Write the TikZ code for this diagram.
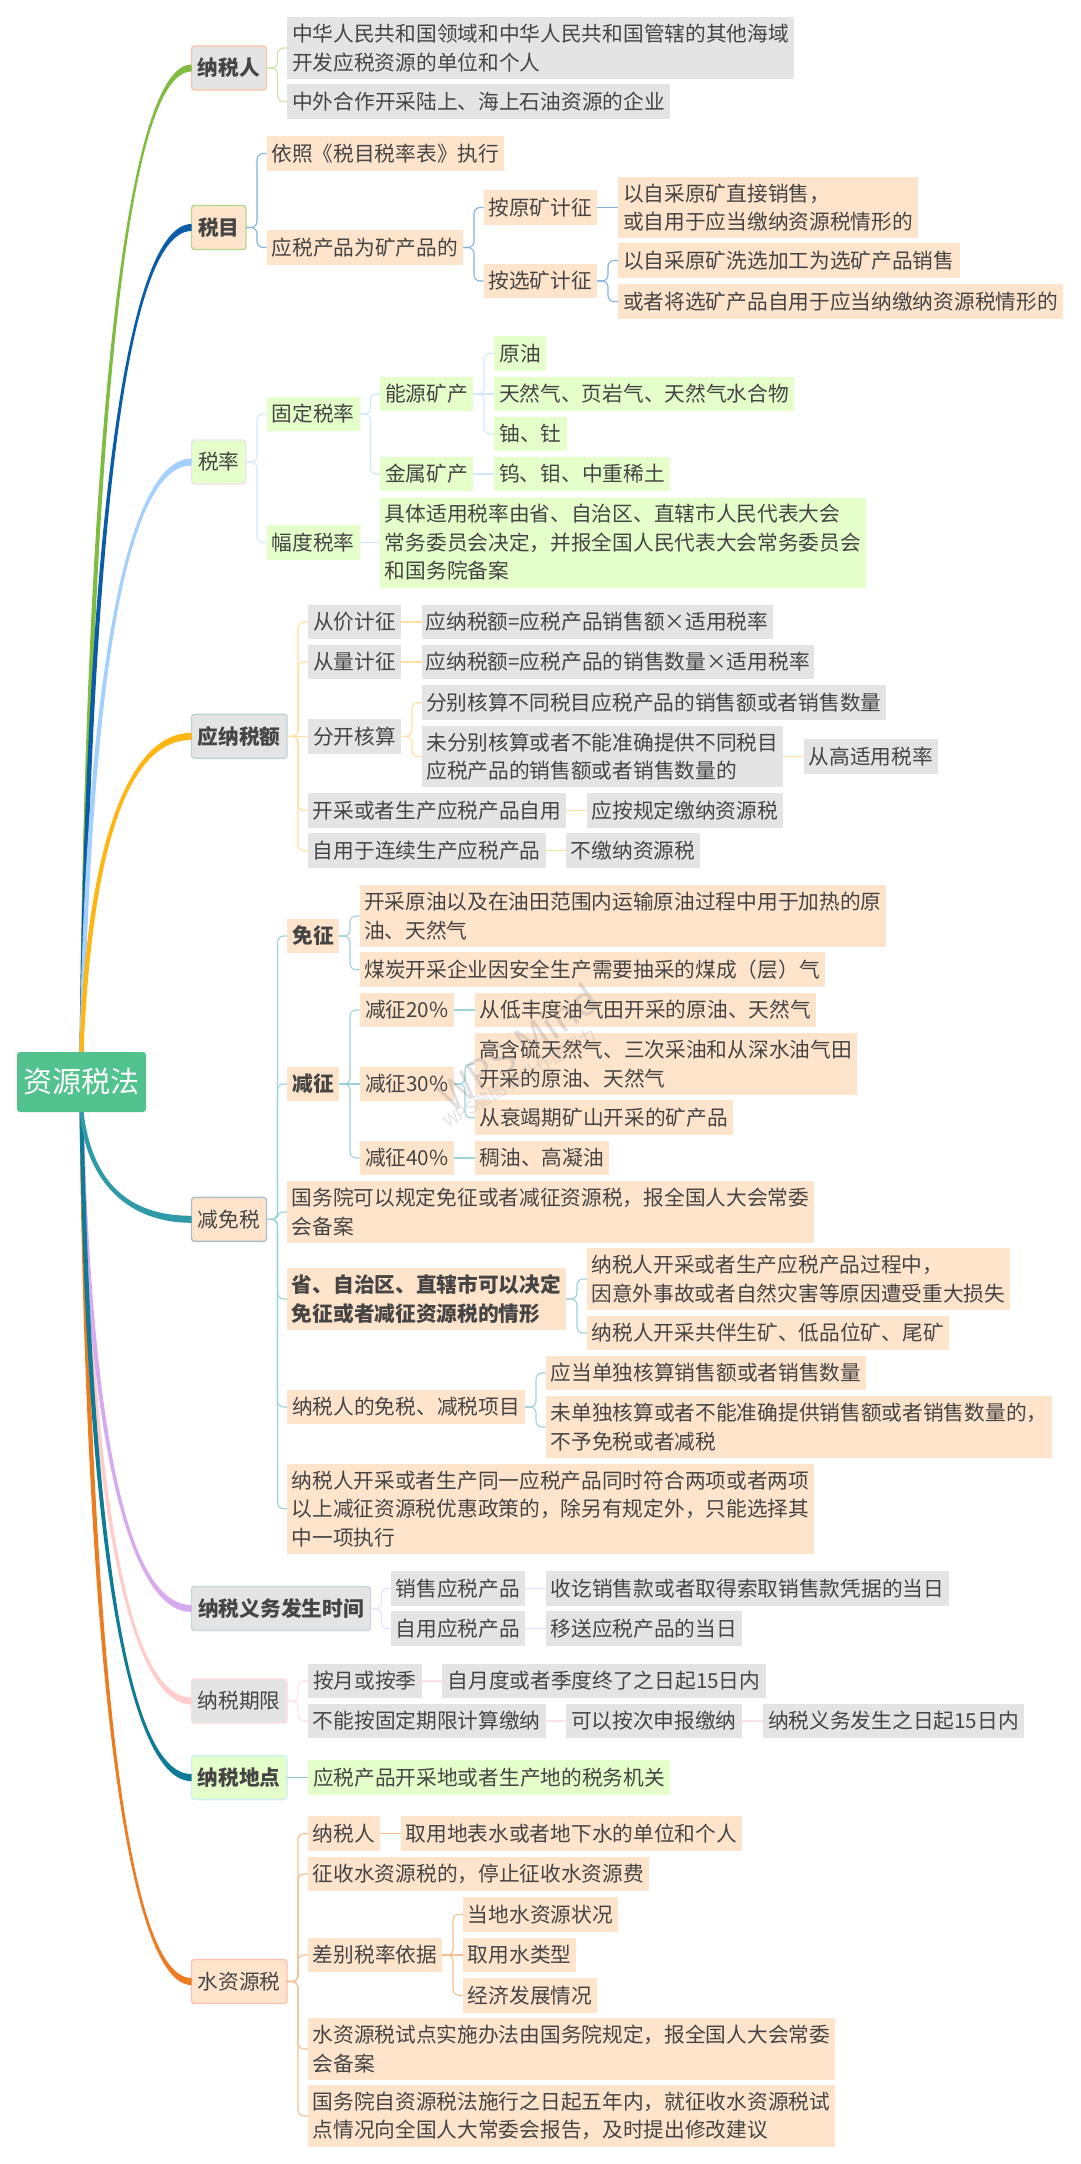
\documentclass[tikz,border=0pt]{standalone}
\usepackage{fontspec}
\usetikzlibrary{calc}
\setmainfont{Noto Sans CJK SC}

\definecolor{textgray}{HTML}{454545}
\definecolor{boxgray}{HTML}{E4E4E4}
\definecolor{boxpeach}{HTML}{FFE4CC}
\definecolor{boxgreen}{HTML}{E4FFC9}
\definecolor{rootgreen}{HTML}{52C28E}
\definecolor{trunkgreen}{HTML}{7FBC41}
\definecolor{trunkblue}{HTML}{0B5CA8}
\definecolor{trunksky}{HTML}{A3D0FF}
\definecolor{trunkyellow}{HTML}{FFB612}
\definecolor{trunkteal}{HTML}{2F9AA8}
\definecolor{trunklilac}{HTML}{D7A9EE}
\definecolor{trunkpink}{HTML}{FFCCCC}
\definecolor{trunksteel}{HTML}{0E7C96}
\definecolor{trunkorange}{HTML}{EC7C22}
\definecolor{linegreen}{HTML}{C9E5A8}
\definecolor{lineblue}{HTML}{7FB2DC}
\definecolor{linesky}{HTML}{D0E8FF}
\definecolor{lineyellow}{HTML}{FFE0A0}
\definecolor{lineteal}{HTML}{9BD3D8}
\definecolor{linelilac}{HTML}{EEDCF8}
\definecolor{linepink}{HTML}{FFE3E3}
\definecolor{linesteel}{HTML}{8FC2D0}
\definecolor{lineorange}{HTML}{F5BE90}

\tikzset{
  leafbox/.style={anchor=west,inner sep=0,outer sep=0,minimum height=34.5,align=left,text=textgray,
    font=\fontsize{20.7}{28.5}\selectfont},
  graybox/.style={leafbox,fill=boxgray},
  peachbox/.style={leafbox,fill=boxpeach},
  greenbox/.style={leafbox,fill=boxgreen},
  twolines/.style={minimum height=61.7},
  threelines/.style={minimum height=90},
  strong/.style={font=\fontsize{20.7}{28.5}\selectfont\bfseries},
  topicbox/.style={minimum height=44,rounded corners=3,draw=#1,line width=1.4},
  branch/.style={rounded corners=6,line width=1.1}
}

\begin{document}
\begin{tikzpicture}[x=1pt,y=-1pt]
\useasboundingbox (0,0) rectangle (1080,2164);

\node[anchor=west,inner sep=0,outer sep=0,minimum width=129,minimum height=60,rounded corners=3,fill=rootgreen,text=white,
  font=\fontsize{29}{32}\selectfont] (root) at (17,1082) {资源税法};

% nashuiren
\node[graybox,strong,topicbox=red!35!orange!35,minimum width=75] (nsr) at (191.5,68) {纳税人};
\node[graybox,twolines,minimum width=507] (nsr1) at (287,48) {中华人民共和国领域和中华人民共和国管辖的其他海域\\开发应税资源的单位和个人};
\node[graybox,minimum width=383] (nsr2) at (287,101.5) {中外合作开采陆上、海上石油资源的企业};

% shuimu
\node[peachbox,strong,topicbox={green!50!yellow!50!gray!60},minimum width=54.5] (sm) at (191.5,227.5) {税目};
\node[peachbox,minimum width=237.5] (sm1) at (266.5,153.5) {依照《税目税率表》执行};
\node[peachbox,minimum width=196.5] (sm2) at (266.5,247.5) {应税产品为矿产品的};
\node[peachbox,minimum width=113.5] (sm21) at (483.5,207.5) {按原矿计征};
\node[peachbox,minimum width=113.5] (sm22) at (483.5,281) {按选矿计征};
\node[peachbox,twolines,minimum width=300] (sm211) at (618,207.5) {以自采原矿直接销售，\\或自用于应当缴纳资源税情形的};
\node[peachbox,minimum width=341.5] (sm221) at (618,260.5) {以自采原矿洗选加工为选矿产品销售};
\node[peachbox,minimum width=445] (sm222) at (618,301.5) {或者将选矿产品自用于应当纳缴纳资源税情形的};

% shuilv
\node[greenbox,topicbox=violet!12,minimum width=54.5] (sl) at (191.5,462) {税率};
\node[greenbox,minimum width=93] (sl1) at (266.5,414) {固定税率};
\node[greenbox,minimum width=93] (sl2) at (266.5,542.5) {幅度税率};
\node[greenbox,minimum width=93] (sl11) at (380,394) {能源矿产};
\node[greenbox,minimum width=93] (sl12) at (380,474) {金属矿产};
\node[greenbox,minimum width=52] (sl111) at (494,353.3) {原油};
\node[greenbox,minimum width=300] (sl112) at (494,394) {天然气、页岩气、天然气水合物};
\node[greenbox,minimum width=73] (sl113) at (494,434) {铀、钍};
\node[greenbox,minimum width=176] (sl121) at (494,474) {钨、钼、中重稀土};
\node[greenbox,threelines,minimum width=486] (sl21) at (380,542.5) {具体适用税率由省、自治区、直辖市人民代表大会\\常务委员会决定，并报全国人民代表大会常务委员会\\和国务院备案};

% yingnashuie
\node[graybox,strong,topicbox=cyan!30!gray!45,minimum width=95.5] (ynse) at (191.5,736.3) {应纳税额};
\node[graybox,minimum width=93] (ynse1) at (308,622) {从价计征};
\node[graybox,minimum width=93] (ynse2) at (308,662) {从量计征};
\node[graybox,minimum width=93] (ynse3) at (308,736.3) {分开核算};
\node[graybox,minimum width=258] (ynse4) at (308,810.3) {开采或者生产应税产品自用};
\node[graybox,minimum width=237.5] (ynse5) at (308,850.7) {自用于连续生产应税产品};
\node[graybox,minimum width=351] (ynse11) at (421.5,622) {应纳税额=应税产品销售额×适用税率};
\node[graybox,minimum width=392.5] (ynse21) at (421.5,662) {应纳税额=应税产品的销售数量×适用税率};
\node[graybox,minimum width=464.5] (ynse31) at (421.5,702.7) {分别核算不同税目应税产品的销售额或者销售数量};
\node[graybox,twolines,minimum width=361.5] (ynse32) at (421.5,756.6) {未分别核算或者不能准确提供不同税目\\应税产品的销售额或者销售数量的};
\node[graybox,minimum width=134.3] (ynse321) at (803.7,756.6) {从高适用税率};
\node[graybox,minimum width=196] (ynse41) at (586.8,810.3) {应按规定缴纳资源税};
\node[graybox,minimum width=134] (ynse51) at (566,850.7) {不缴纳资源税};

% jianmianshui
\node[peachbox,topicbox={blue!30!cyan!25!gray!55},minimum width=75] (jms) at (191.5,1219.3) {减免税};
\node[peachbox,strong,minimum width=52] (jms1) at (287,936) {免征};
\node[peachbox,strong,minimum width=52] (jms2) at (287,1084) {减征};
\node[peachbox,twolines,minimum width=527] (jms3) at (287,1212) {国务院可以规定免征或者减征资源税，报全国人大会常委\\会备案};
\node[peachbox,strong,twolines,minimum width=279] (jms4) at (287,1299) {省、自治区、直辖市可以决定\\免征或者减征资源税的情形};
\node[peachbox,minimum width=238] (jms5) at (287,1407) {纳税人的免税、减税项目};
\node[peachbox,threelines,minimum width=527] (jms6) at (287,1508.7) {纳税人开采或者生产同一应税产品同时符合两项或者两项\\以上减征资源税优惠政策的，除另有规定外，只能选择其\\中一项执行};
\node[peachbox,twolines,minimum width=526.5] (jms11) at (359.5,916) {开采原油以及在油田范围内运输原油过程中用于加热的原\\油、天然气};
\node[peachbox,minimum width=465] (jms12) at (359.5,969.7) {煤炭开采企业因安全生产需要抽采的煤成（层）气};
\node[peachbox,minimum width=94.5] (jms21) at (359.5,1010) {减征20\%};
\node[peachbox,minimum width=94.5] (jms22) at (359.5,1084) {减征30\%};
\node[peachbox,minimum width=94.5] (jms23) at (359.5,1158) {减征40\%};
\node[peachbox,minimum width=341.5] (jms211) at (474.5,1010) {从低丰度油气田开采的原油、天然气};
\node[peachbox,twolines,minimum width=382] (jms221) at (474.5,1064) {高含硫天然气、三次采油和从深水油气田\\开采的原油、天然气};
\node[peachbox,minimum width=258.5] (jms222) at (474.5,1117.7) {从衰竭期矿山开采的矿产品};
\node[peachbox,minimum width=134.5] (jms231) at (474.5,1158) {稠油、高凝油};
\node[peachbox,twolines,minimum width=423] (jms41) at (586.8,1279) {纳税人开采或者生产应税产品过程中，\\因意外事故或者自然灾害等原因遭受重大损失};
\node[peachbox,minimum width=362] (jms42) at (586.8,1333) {纳税人开采共伴生矿、低品位矿、尾矿};
\node[peachbox,minimum width=320] (jms51) at (546,1373) {应当单独核算销售额或者销售数量};
\node[peachbox,twolines,minimum width=506] (jms52) at (546,1427) {未单独核算或者不能准确提供销售额或者销售数量的，\\不予免税或者减税};

% shijian
\node[graybox,strong,topicbox=cyan!30!gray!40,minimum width=179] (sj) at (191.5,1608.5) {纳税义务发生时间};
\node[graybox,minimum width=134.5] (sj1) at (390.5,1588.3) {销售应税产品};
\node[graybox,minimum width=134.5] (sj2) at (390.5,1628.7) {自用应税产品};
\node[graybox,minimum width=403] (sj11) at (546,1588.3) {收讫销售款或者取得索取销售款凭据的当日};
\node[graybox,minimum width=195.7] (sj21) at (546,1628.7) {移送应税产品的当日};

% qixian
\node[graybox,topicbox=red!14,minimum width=95.5] (qx) at (191.5,1701) {纳税期限};
\node[graybox,minimum width=113.5] (qx1) at (308,1681) {按月或按季};
\node[graybox,minimum width=237.5] (qx2) at (308,1721) {不能按固定期限计算缴纳};
\node[graybox,minimum width=324] (qx11) at (442,1681) {自月度或者季度终了之日起15日内};
\node[graybox,minimum width=175.7] (qx21) at (566,1721) {可以按次申报缴纳};
\node[graybox,minimum width=261] (qx22) at (763,1721) {纳税义务发生之日起15日内};

% didian
\node[greenbox,strong,topicbox=cyan!20,minimum width=95.5] (dd) at (191.5,1777.6) {纳税地点};
\node[greenbox,minimum width=362] (dd1) at (308,1777.6) {应税产品开采地或者生产地的税务机关};

% shuiziyuan
\node[peachbox,topicbox=orange!30!red!30,minimum width=95.5] (sz) at (191.5,1981.5) {水资源税};
\node[peachbox,minimum width=72] (sz1) at (308,1833.7) {纳税人};
\node[peachbox,minimum width=340.7] (sz11) at (401,1833.7) {取用地表水或者地下水的单位和个人};
\node[peachbox,minimum width=340.8] (sz2) at (308,1874) {征收水资源税的，停止征收水资源费};
\node[peachbox,minimum width=134] (sz3) at (308,1955) {差别税率依据};
\node[peachbox,minimum width=154.8] (sz31) at (463,1914.3) {当地水资源状况};
\node[peachbox,minimum width=113.4] (sz32) at (463,1955) {取用水类型};
\node[peachbox,minimum width=134] (sz33) at (463,1995.3) {经济发展情况};
\node[peachbox,twolines,minimum width=526.7] (sz4) at (308,2049) {水资源税试点实施办法由国务院规定，报全国人大会常委\\会备案};
\node[peachbox,twolines,minimum width=526.7] (sz5) at (308,2116) {国务院自资源税法施行之日起五年内，就征收水资源税试\\点情况向全国人大常委会报告，及时提出修改建议};

% trunks
\foreach \topic/\col/\start/\s in {nsr/trunkgreen/north/1,sm/trunkblue/north/1,sl/trunksky/north/1,ynse/trunkyellow/north/1,
  sz/trunkorange/south/-1,qx/trunkpink/south/-1,sj/trunklilac/south/-1,dd/trunksteel/south/-1,jms/trunkteal/south/-1}
{
\fill[\col] let \p1=(root.\start), \p2=(\topic.west) in
  (\x1-2pt,\y1) .. controls ({\x1+0.07*(\x2-\x1)-3pt},{\y1+0.66*(\y2-\y1)}) and ({\x1+0.43*(\x2-\x1)},{\y2+\s*3.5pt}) .. (\x2,\y2+\s*3.5pt)
  -- (\x2,\y2-\s*3.5pt) .. controls ({\x1+0.43*(\x2-\x1)},{\y2-\s*3.5pt}) and ({\x1+0.07*(\x2-\x1)+3pt},{\y1+0.66*(\y2-\y1)}) .. (\x1+2pt,\y1) -- cycle;
}

% branches with a fork
\foreach \a/\b/\col in {nsr/nsr1/linegreen,nsr/nsr2/linegreen,
  sm/sm1/lineblue,sm/sm2/lineblue,sm2/sm21/lineblue,sm2/sm22/lineblue,sm22/sm221/lineblue,sm22/sm222/lineblue,
  sl/sl1/linesky,sl/sl2/linesky,sl1/sl11/linesky,sl1/sl12/linesky,sl11/sl111/linesky,sl11/sl113/linesky,
  ynse/ynse1/lineyellow,ynse/ynse2/lineyellow,ynse/ynse4/lineyellow,ynse/ynse5/lineyellow,ynse3/ynse31/lineyellow,ynse3/ynse32/lineyellow,
  jms/jms1/lineteal,jms/jms2/lineteal,jms/jms3/lineteal,jms/jms4/lineteal,jms/jms5/lineteal,jms/jms6/lineteal,
  jms1/jms11/lineteal,jms1/jms12/lineteal,jms2/jms21/lineteal,jms2/jms23/lineteal,jms22/jms221/lineteal,jms22/jms222/lineteal,
  jms4/jms41/lineteal,jms4/jms42/lineteal,jms5/jms51/lineteal,jms5/jms52/lineteal,
  sj/sj1/linelilac,sj/sj2/linelilac,qx/qx1/linepink,qx/qx2/linepink,
  sz/sz1/lineorange,sz/sz2/lineorange,sz/sz3/lineorange,sz/sz4/lineorange,sz/sz5/lineorange,sz3/sz31/lineorange,sz3/sz33/lineorange}
{
\draw[branch,\col] (\a.east) -- ++(11,0) |- (\b.west);
}

% straight branches
\foreach \a/\b/\col in {sm21/sm211/lineblue,sl11/sl112/linesky,sl12/sl121/linesky,sl2/sl21/linesky,
  ynse/ynse3/lineyellow,ynse1/ynse11/lineyellow,ynse2/ynse21/lineyellow,ynse32/ynse321/lineyellow,ynse4/ynse41/lineyellow,ynse5/ynse51/lineyellow,
  jms2/jms22/lineteal,jms21/jms211/lineteal,jms23/jms231/lineteal,
  sj1/sj11/linelilac,sj2/sj21/linelilac,qx1/qx11/linepink,qx2/qx21/linepink,qx21/qx22/linepink,
  dd/dd1/linesteel,sz1/sz11/lineorange,sz3/sz32/lineorange}
{
\draw[branch,\col] (\a.east) -- (\b.west);
}

% watermark
\node[rotate=35,opacity=0.25,text=gray,font=\fontsize{40}{44}\selectfont] (mark1) at (518,1047) {WPS Mind};
\node[rotate=31,opacity=0.22,text=gray,font=\fontsize{17}{20}\selectfont] (mark2) at (520,1078) {WPS脑图 提升作图能力};

\end{tikzpicture}
\end{document}
